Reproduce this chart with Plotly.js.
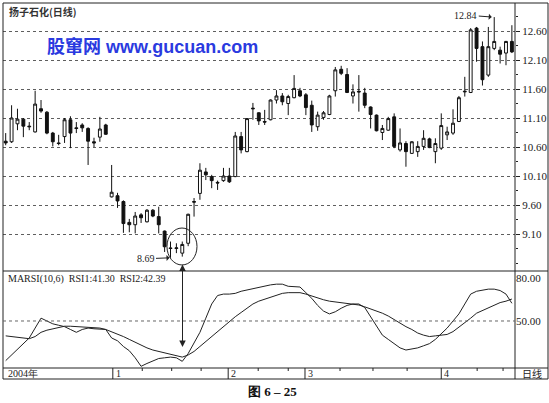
<!DOCTYPE html>
<html><head><meta charset="utf-8">
<script src="https://cdn.plot.ly/plotly-3.0.1.min.js"></script>
<style>html,body{margin:0;padding:0;background:#fff}#chart{width:549px;height:403px}</style>
</head><body><div id="chart"></div>
<script>
// ---- data ----
const openP  = [10.70,10.69,11.00,11.08,10.96,10.86,11.26,11.20,10.84,10.67,10.78,11.07,10.93,10.98,10.92,10.69,10.77,10.98,
                9.74,9.76,9.66,9.30,9.26,9.43,9.31,9.51,9.40,9.15,8.86,8.85,8.77,8.94,9.66,9.80,10.17,10.09,9.99,10.02,10.10,
                10.09,10.78,10.52,11.27,11.19,11.04,11.07,11.41,11.48,11.35,11.45,11.57,11.50,11.32,10.95,11.11,11.16,11.57,
                11.94,11.85,11.48,11.56,11.53,11.29,11.15,10.85,10.89,11.12,10.55,10.66,10.49,10.52,10.61,10.74,10.52,10.58,
                10.81,10.84,11.04,11.55,11.54,12.65,12.33,11.84,12.30,12.27,12.22,12.42];
const highP  = [10.84,11.32,11.26,11.10,11.03,11.57,11.41,11.22,10.86,10.81,11.10,11.13,11.03,11.01,10.94,10.76,11.12,11.00,
                10.29,9.81,9.68,9.36,9.48,9.46,9.53,9.53,9.57,9.16,8.97,8.94,8.97,9.45,9.72,10.32,10.24,10.12,10.02,10.24,10.24,
                10.86,10.86,11.10,11.36,11.20,11.24,11.42,11.58,11.53,11.50,11.84,11.62,11.53,11.40,11.21,11.22,11.50,11.98,
                12.00,11.96,11.68,11.84,11.62,11.30,11.16,10.98,11.12,11.18,10.92,10.70,10.70,10.70,10.89,10.76,10.75,11.18,
                10.95,11.25,11.48,11.81,12.65,12.67,12.42,12.67,12.84,12.33,12.43,12.70];
const lowP   = [10.63,10.67,10.89,10.77,10.89,10.85,11.19,10.82,10.61,10.63,10.67,10.58,10.84,10.86,10.29,10.60,10.69,10.81,
                9.73,9.55,9.12,9.13,9.11,9.29,9.30,9.39,9.11,8.79,8.69,8.77,8.71,8.89,9.40,9.69,10.03,9.89,9.86,10.00,9.98,
                10.08,10.49,10.51,11.07,10.98,10.98,11.06,11.35,11.32,11.15,11.44,11.46,11.15,10.86,10.88,11.07,11.15,11.47,
                11.84,11.53,11.35,11.21,11.27,10.92,10.87,10.72,10.88,10.58,10.52,10.26,10.48,10.43,10.55,10.58,10.32,10.55,
                10.72,10.81,11.03,11.47,11.53,12.07,11.66,11.81,12.27,12.04,12.01,12.22];
const closeP = [10.67,11.10,11.08,10.96,10.95,11.34,11.22,10.84,10.69,10.66,11.07,10.84,10.92,10.93,10.70,10.67,10.91,10.82,
                9.82,9.67,9.28,9.26,9.41,9.38,9.51,9.41,9.26,8.88,8.85,8.86,8.92,9.44,9.65,10.20,10.12,10.02,9.98,10.10,10.00,
                10.79,10.55,11.09,11.26,11.05,11.03,11.41,11.48,11.38,11.47,11.61,11.48,11.28,10.98,11.15,11.19,11.48,11.93,
                11.87,11.54,11.55,11.55,11.32,11.16,10.88,10.92,11.09,10.61,10.67,10.52,10.69,10.61,10.75,10.59,10.66,10.97,
                10.86,11.01,11.45,11.56,12.62,12.30,11.76,12.33,12.42,12.20,12.42,12.24];
const rsi1 = [22,26,30,34,38,45,52,50,48,47,46,44,42,44,45,44.5,44,44,
              38,36,32,29,24,18,20,22,23.5,24,24.5,24,21.5,27,35,42,52,62,68,69,69,
              69.5,71,72,73,74,75,75.5,76,76,74.5,74.5,74,70,66,61,57,55,56.5,
              59,61,62,62,59.5,53,46,40,37,34,31,29.5,30,31,32.5,34,37,41,
              45,50,55,62,69,71,72,72.5,72.5,71.5,69,62.5];
const rsi2 = [39.5,39,38.5,38,37.5,39,42,43.5,44.5,45.5,46.3,46.3,46,45.8,45.7,45.5,45,44,
              42.5,41,39,37,35,32.5,31,29.5,28.5,27.5,26.5,25.5,24.5,26,28.5,32,35.5,39.5,43,46,49.5,
              53,56,59,62,64,65.5,67,68.5,69.5,70,70.2,70,69,67.5,66,65,64,63.5,
              63.2,62.8,62,61.3,60,58.5,57.5,55.5,53.5,51,48,46,44,41.5,40,39,39.5,40,
              40.5,42.5,45.5,49,52,55.5,57.5,59.5,61.5,63,64,65.5];
const priceTicks = [9.10,9.60,10.10,10.60,11.10,11.60,12.10,12.60];
const rsiTicks = [50,80];
const periodLabels = ['2004年','1','2','3','4'];
const lowLabel = 8.69;
const highLabel = 12.84;

const idx = openP.map((_, i) => i + 1);

// ---- geometry helpers (pixel -> paper) ----
const W = 549, H = 403, L = 3, R = 34, T = 3, B = 24;
const pw = W - L - R, ph = H - T - B;
const px = x => (x - L) / pw;
const py = y => (H - B - y) / ph;
const split = py(271), strip = py(368);

const sepIdx = [19.2, 38.8, 51.85, 75];
const weekIdx = [24.2, 29.2, 34.2, 43.9, 49, 57.8, 63.4, 69.2, 81.1, 85.5];

const traces = [
  {type:'candlestick', x: idx, open: openP, high: highP, low: lowP, close: closeP,
   xaxis:'x', yaxis:'y', whiskerwidth: 0,
   increasing:{line:{color:'#111', width:1}, fillcolor:'#ffffff'},
   decreasing:{line:{color:'#111', width:1}, fillcolor:'#111111'},
   hoverinfo:'skip', showlegend:false},
  {type:'scatter', mode:'lines', x: idx, y: rsi1, xaxis:'x', yaxis:'y2',
   line:{color:'#222', width:1}, hoverinfo:'skip', showlegend:false},
  {type:'scatter', mode:'lines', x: idx, y: rsi2, xaxis:'x', yaxis:'y2',
   line:{color:'#222', width:1}, hoverinfo:'skip', showlegend:false}
];

const ln = {color:'#222', width:1};
const shapes = [
  {type:'rect', xref:'paper', yref:'paper', x0:px(3.5), x1:px(147), y0:py(37), y1:py(25),
   fillcolor:'#fff', line:{width:0}, layer:'between'},
  {type:'rect', xref:'paper', yref:'paper', x0:0, x1:px(548), y0:0, y1:1, line:ln},
  {type:'line', xref:'paper', yref:'paper', x0:0, x1:px(548), y0:split, y1:split, line:ln},
  {type:'line', xref:'paper', yref:'paper', x0:0, x1:px(548), y0:strip, y1:strip, line:ln},
  {type:'line', xref:'paper', yref:'paper', x0:1, x1:1, y0:0, y1:1, line:ln},
  {type:'line', xref:'paper', yref:'y2', x0:0, x1:1, y0:50, y1:50, line:{color:'#666', width:1, dash:'dot'}},
  {type:'circle', xref:'x', yref:'y', x0:28.4, x1:33.5, y0:8.566, y1:9.203, line:{color:'#222', width:1}}
];
sepIdx.forEach(s => shapes.push({type:'line', xref:'x', yref:'paper', x0:s, x1:s, y0:0, y1:strip, line:ln}));
weekIdx.forEach(s => shapes.push({type:'line', xref:'x', yref:'paper', x0:s, x1:s, y0:strip - 3/ph, y1:strip, line:ln}));

const serif = '"Liberation Serif", "DejaVu Serif", serif';
const cjk = '"Noto Sans CJK SC", sans-serif';
const annotations = [
  {xref:'paper', yref:'paper', x:px(7), y:py(12), xanchor:'left', yanchor:'middle', showarrow:false,
   text:'<b>扬子石化(日线)</b>', font:{family:cjk, size:10, color:'#333'}},
  {xref:'paper', yref:'paper', x:px(45), y:py(46.5), xanchor:'left', yanchor:'middle', showarrow:false,
   text:'<b>股窜网 www.gucuan.com</b>', font:{family:'"Liberation Sans", "Noto Sans CJK SC", sans-serif', size:18, color:'#2a3ae0'}},
  {xref:'paper', yref:'paper', x:px(6), y:py(279), xanchor:'left', yanchor:'middle', showarrow:false,
   text:'MARSI(10,6)  RSI1:41.30  RSI2:42.39', font:{family:serif, size:10, color:'#222'}},
  {xref:'paper', yref:'paper', x:px(6), y:py(373.5), xanchor:'left', yanchor:'middle', showarrow:false,
   text:periodLabels[0], font:{family:serif, size:10, color:'#222'}},
  {xref:'paper', yref:'paper', x:px(532), y:py(373.5), xanchor:'center', yanchor:'middle', showarrow:false,
   text:'日线', font:{family:cjk, size:10, color:'#222'}},
  {xref:'paper', yref:'paper', x:px(272.5), y:py(391.5), xanchor:'center', yanchor:'middle', showarrow:false,
   text:'<b>图 6 – 25</b>', font:{family:serif, size:13, color:'#111'}},
  {xref:'x', yref:'y', x:29, y:lowLabel, ax:-25, ay:1, text:lowLabel.toFixed(2), showarrow:true,
   arrowhead:1, arrowsize:1, arrowwidth:1, arrowcolor:'#222', standoff:1, font:{family:serif, size:10, color:'#222'}},
  {xref:'x', yref:'y', x:83.75, y:highLabel, ax:-27, ay:-2, text:highLabel.toFixed(2), showarrow:true,
   arrowhead:1, arrowsize:1, arrowwidth:1, arrowcolor:'#222', standoff:1, font:{family:serif, size:10, color:'#222'}},
  {xref:'x', yref:'y2', x:31.04, y:31.65, ax:0, ay:-84, text:'', showarrow:true, arrowside:'end+start',
   arrowhead:2, arrowsize:1.3, arrowwidth:1, arrowcolor:'#222', standoff:0, startstandoff:0, startarrowhead:2, startarrowsize:1.3}
];
periodLabels.slice(1).forEach((t, k) => annotations.push(
  {xref:'x', yref:'paper', x:sepIdx[k], y:py(373.5), xanchor:'left', yanchor:'middle', xshift:1, showarrow:false,
   text:t, font:{family:serif, size:10, color:'#222'}}));

const layout = {
  width: W, height: H, margin:{l:L, r:R, t:T, b:B, pad:0},
  paper_bgcolor:'#fff', plot_bgcolor:'#fff', showlegend:false, hovermode:false,
  font:{family:serif, size:10, color:'#222'},
  xaxis:{range:[0.541, 87.53], domain:[0,1], anchor:'y2', showgrid:false, zeroline:false,
         showticklabels:false, ticks:'', showline:false, rangeslider:{visible:false}, fixedrange:true},
  yaxis:{domain:[split, 1], range:[8.462, 13.083], side:'right', anchor:'x',
         tickmode:'array', tickvals:priceTicks, ticktext:priceTicks.map(v => v.toFixed(2)),
         ticks:'outside', ticklen:4, tickwidth:1, tickcolor:'#222',
         minor:{ticks:'outside', ticklen:2, tickcolor:'#222', tick0:9.10, dtick:0.25, showgrid:false},
         showgrid:true, gridcolor:'#5e5e5e', griddash:'dot', gridwidth:1, zeroline:false, showline:false,
         tickfont:{family:serif, size:11, color:'#222'}, fixedrange:true},
  yaxis2:{domain:[strip, split], range:[16.8, 85.3], side:'right', anchor:'x',
          tickmode:'array', tickvals:rsiTicks, ticktext:rsiTicks.map(v => v.toFixed(2)),
          ticks:'', showgrid:false, zeroline:false, showline:false,
          tickfont:{family:serif, size:11, color:'#222'}, fixedrange:true},
  shapes: shapes, annotations: annotations
};

Plotly.newPlot('chart', traces, layout, {displayModeBar:false, staticPlot:true});
</script>
</body></html>
